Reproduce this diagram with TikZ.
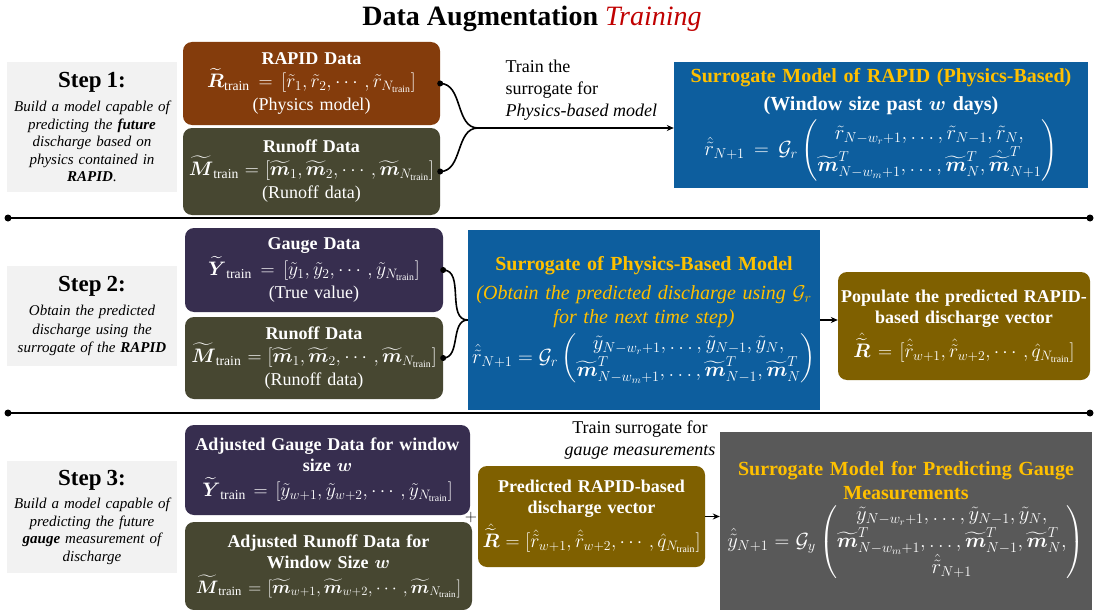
\RequirePackage{fix-cm}
\documentclass[tikz,border=0pt]{standalone}
\usepackage{amsmath, amssymb}
\usepackage{fontspec}
\setmainfont{Liberation Serif}
\usepackage{xcolor}
\usepackage{tikz}
\usetikzlibrary{arrows.meta,calc}

\definecolor{stepgray}{HTML}{F2F2F2}
\definecolor{rapidbrown}{HTML}{843C0C}
\definecolor{runoffolive}{HTML}{474731}
\definecolor{gaugepurple}{HTML}{372E4F}
\definecolor{vecgold}{HTML}{7F6000}
\definecolor{surrblue}{HTML}{0D5E9E}
\definecolor{surrgray}{HTML}{595959}
\definecolor{titleyellow}{HTML}{FFC000}
\definecolor{titlered}{HTML}{C00000}

\newcommand{\fsz}[2]{\fontsize{#1}{#2}\selectfont}
\newcommand{\steptitle}[1]{{\fsz{23}{26}\bfseries\upshape #1}}
\newcommand{\eqsz}{\fsz{19.5}{23}}
\newcommand{\eqbig}{\fsz{20.5}{24}}
\newcommand{\bmt}{\widetilde{\boldsymbol m}}

\tikzset{
  databox/.style={rounded corners=9pt, align=center, text=white, inner xsep=1pt, inner ysep=3pt, font=\fsz{18}{21}},
  stepbox/.style={fill=stepgray, align=center, inner sep=3pt, text width=164pt, minimum width=170pt, font=\fsz{15}{17.5}\itshape},
  rapid/.style={databox, fill=rapidbrown},
  runoff/.style={databox, fill=runoffolive},
  gauge/.style={databox, fill=gaugepurple},
  vecbox/.style={databox, fill=vecgold},
  surr/.style={align=center, text=white, inner sep=3pt, font=\fsz{20}{24}},
  note/.style={font=\fsz{18}{22}},
  link/.style={line width=1.6pt},
  arrow/.style={line width=1.4pt, -{Stealth[length=7pt,width=6pt]}},
  enddot/.style={circle, fill=black, inner sep=0pt, minimum size=6pt}
}

\begin{document}
\begin{tikzpicture}[x=1pt,y=-1pt]
  \fill[white] (0,0) rectangle (1098,610);
  \useasboundingbox (0,0) rectangle (1098,610);
  % Title
  \node (title) at (532,19) {\fsz{28}{31}\bfseries Data Augmentation {\color{titlered}\mdseries\itshape Training}};

  % Separators between the steps
  \foreach \y in {218,413} {
    \draw[line width=2pt] (8,\y) -- (1090,\y);
    \fill (8,\y) circle (3.5) (1090,\y) circle (3.5);
  }

  % Step 1
  \node[stepbox, minimum height=130pt] (step1) at (92,127) {\steptitle{Step 1:}\\[7pt] Build a model capable of\\ predicting the \textbf{future}\\ discharge based on\\ physics contained in\\ \textbf{RAPID}.};
  \node[rapid, minimum width=257pt, minimum height=83pt, text width=254pt] (rapid1) at (311.5,83.5) {\textbf{RAPID Data}\\[2pt] {\eqsz$\widetilde{\boldsymbol R}_{\mathrm{train}} = [\tilde r_1,\tilde r_2,\cdots,\tilde r_{N_{\mathrm{train}}}]$}\\[2pt] (Physics model)};
  \node[runoff, minimum width=257pt, minimum height=87pt, text width=254pt] (runoff1) at (311.5,171.5) {\textbf{Runoff Data}\\[2pt] {\eqsz$\widetilde{\boldsymbol M}_{\mathrm{train}} = [\bmt_1,\bmt_2,\cdots,\bmt_{N_{\mathrm{train}}}]$}\\[2pt] (Runoff data)};
  \node[note, anchor=west, align=left] (train1) at (502,90) {Train the\\ surrogate for\\ \textit{Physics-based model}};
  \node[surr, fill=surrblue, minimum width=414pt, minimum height=126pt, text width=406pt] (surr1) at (881,125) {{\bfseries\color{titleyellow}Surrogate Model of RAPID (Physics-Based)}\\[4pt] \textbf{(Window size past $\boldsymbol{w}$ days)}\\[4pt]
    {\eqbig$\hat{\tilde r}_{N+1} = \mathcal{G}_r\left(\begin{matrix}\tilde r_{N-w_r+1},\dots,\tilde r_{N-1},\tilde r_N,\\ \bmt^T_{N-w_m+1},\dots,\bmt^T_N,\hat{\bmt}^T_{N+1}\end{matrix}\right)$}};
  \node[enddot] (d1a) at (rapid1.east) {};
  \node[enddot] (d1b) at (runoff1.east) {};
  \coordinate (merge1) at (478,128);
  \draw[link] (d1a.center) to[out=0,in=180] (merge1);
  \draw[link] (d1b.center) to[out=0,in=180] (merge1);
  \draw[arrow] (merge1) -- (merge1 -| surr1.west);

  % Step 2
  \node[stepbox, minimum height=100pt, font=\fsz{15}{18.5}\itshape] (step2) at (92,316) {\steptitle{Step 2:}\\[6pt] Obtain the predicted\\ discharge using the\\ surrogate of the \textbf{RAPID}};
  \node[gauge, minimum width=258pt, minimum height=84pt, text width=255pt] (gauge2) at (314,270) {\textbf{Gauge Data}\\[2pt] {\eqsz$\widetilde{\boldsymbol Y}_{\mathrm{train}} = [\tilde y_1,\tilde y_2,\cdots,\tilde y_{N_{\mathrm{train}}}]$}\\[2pt] (True value)};
  \node[runoff, minimum width=258pt, minimum height=82pt, text width=255pt] (runoff2) at (314,358) {\textbf{Runoff Data}\\[2pt] {\eqsz$\widetilde{\boldsymbol M}_{\mathrm{train}} = [\bmt_1,\bmt_2,\cdots,\bmt_{N_{\mathrm{train}}}]$}\\[2pt] (Runoff data)};
  \node[surr, fill=surrblue, minimum width=352pt, minimum height=180pt, text width=344pt] (surr2) at (644,320) {{\bfseries\color{titleyellow}Surrogate of Physics-Based Model}\\[5pt] {\color{titleyellow}\itshape (Obtain the predicted discharge using $\mathcal{G}_r$\\ for the next time step)}\\[4pt]
    {\eqbig$\hat{\tilde r}_{N+1} = \mathcal{G}_r\left(\begin{matrix}\tilde y_{N-w_r+1},\dots,\tilde y_{N-1},\tilde y_N,\\ \bmt^T_{N-w_m+1},\dots,\bmt^T_{N-1},\bmt^T_N\end{matrix}\right)$}};
  \node[vecbox, minimum width=252pt, minimum height=108pt, text width=249pt] (vec2) at (964,326) {\textbf{Populate the predicted RAPID-}\\ \textbf{based discharge vector}\\[5pt] {\eqsz$\hat{\widetilde{\boldsymbol R}} = [\hat{\tilde r}_{w+1},\hat{\tilde r}_{w+2},\cdots,\hat q_{N_{\mathrm{train}}}]$}\\[10pt]};
  \node[enddot] (d2a) at (gauge2.east) {};
  \node[enddot] (d2b) at (runoff2.east) {};
  \coordinate (merge2) at (surr2.west);
  \draw[link] (d2a.center) to[out=0,in=180] (merge2);
  \draw[link] (d2b.center) to[out=0,in=180] (merge2);
  \draw[arrow] (surr2.east) -- (surr2.east -| vec2.west);

  % Step 3
  \node[stepbox, minimum height=112pt] (step3) at (92,517) {\steptitle{Step 3:}\\[6pt] Build a model capable of\\ predicting the future\\ \textbf{gauge} measurement of\\ discharge};
  \node[gauge, minimum width=285pt, minimum height=90pt, text width=282pt] (gauge3) at (327.5,470) {\textbf{Adjusted Gauge Data for window}\\ \textbf{size $\boldsymbol{w}$}\\[4pt] {\eqsz$\widetilde{\boldsymbol Y}_{\mathrm{train}} = [\tilde y_{w+1},\tilde y_{w+2},\cdots,\tilde y_{N_{\mathrm{train}}}]$}};
  \node[runoff, minimum width=287pt, minimum height=88pt, text width=284pt] (runoff3) at (328.5,566) {\textbf{Adjusted Runoff Data for}\\ \textbf{Window Size $\boldsymbol{w}$}\\[4pt] {\fsz{18}{22}$\widetilde{\boldsymbol M}_{\mathrm{train}} = [\bmt_{w+1},\bmt_{w+2},\cdots,\bmt_{N_{\mathrm{train}}}]$}};
  \node[font=\fsz{16}{18}] (plus) at (471,517) {$+$};
  \node[vecbox, minimum width=227pt, minimum height=101pt, text width=224pt] (vec3) at (591.5,516.5) {\textbf{Predicted RAPID-based}\\ \textbf{discharge vector}\\[5pt] {\eqsz$\hat{\widetilde{\boldsymbol R}} = [\hat{\tilde r}_{w+1},\hat{\tilde r}_{w+2},\cdots,\hat q_{N_{\mathrm{train}}}]$}};
  \node[note, align=center] (train3) at (640,440) {Train surrogate for\\ \textit{gauge measurements}};
  \node[surr, fill=surrgray, minimum width=372pt, minimum height=178pt, text width=364pt] (surr3) at (906,521) {{\bfseries\color{titleyellow}Surrogate Model for Predicting Gauge\\ Measurements}\\[3pt]
    {\eqbig$\hat{\tilde y}_{N+1} = \mathcal{G}_y\left(\begin{matrix}\tilde y_{N-w_r+1},\dots,\tilde y_{N-1},\tilde y_N,\\ \bmt^T_{N-w_m+1},\dots,\bmt^T_{N-1},\bmt^T_N,\\ \hat{\tilde r}_{N+1}\end{matrix}\right)$}};
  \draw[arrow] (vec3.east) -- (vec3.east -| surr3.west);
\end{tikzpicture}
\end{document}
